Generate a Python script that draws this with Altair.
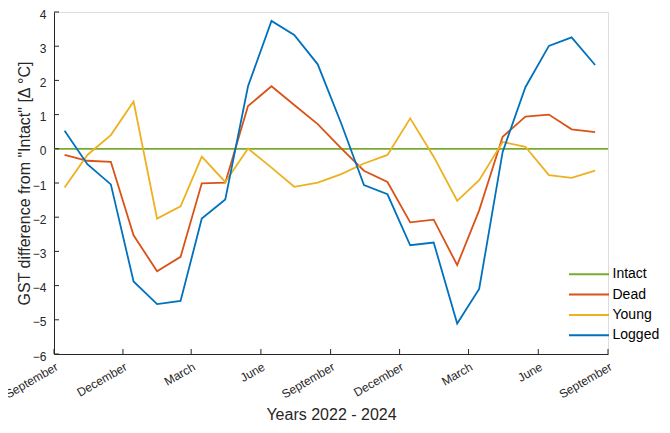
import altair as alt
import pandas as pd

# ---- data ----
months = ["2022-09", "2022-10", "2022-11", "2022-12", "2023-01", "2023-02",
          "2023-03", "2023-04", "2023-05", "2023-06", "2023-07", "2023-08",
          "2023-09", "2023-10", "2023-11", "2023-12", "2024-01", "2024-02",
          "2024-03", "2024-04", "2024-05", "2024-06", "2024-07", "2024-08"]
series_names = ["Intact", "Dead", "Young", "Logged"]
series_colors = ["#77AC30", "#D95319", "#EDB120", "#0072BD"]

intact_span = ["2022-09-01", "2024-09-01"]
intact = [0.0, 0.0]
dead = [-0.18, -0.35, -0.38, -2.53, -3.58, -3.16, -1.01, -0.99, 1.25, 1.83, 1.28, 0.72,
        0.01, -0.64, -0.97, -2.15, -2.07, -3.40, -1.80, 0.35, 0.94, 1.00, 0.57, 0.49]
young = [-1.13, -0.18, 0.40, 1.38, -2.04, -1.68, -0.23, -0.97, 0.01, -0.55, -1.11, -0.99,
         -0.74, -0.43, -0.18, 0.89, -0.23, -1.52, -0.92, 0.20, 0.06, -0.77, -0.85, -0.64]
logged = [0.53, -0.45, -1.04, -3.88, -4.54, -4.45, -2.04, -1.48, 1.83, 3.74, 3.33, 2.47,
          0.74, -1.06, -1.33, -2.82, -2.74, -5.11, -4.10, -0.09, 1.80, 3.01, 3.26, 2.45]

tick_dates = ["2022-09-01", "2022-12-01", "2023-03-01", "2023-06-01", "2023-09-01",
              "2023-12-01", "2024-03-01", "2024-06-01", "2024-09-01"]
tick_labels = ["September", "December", "March", "June", "September",
               "December", "March", "June", "September"]
y_ticks = [-6, -5, -4, -3, -2, -1, 0, 1, 2, 3, 4]

# ---- build tables ----
origin = pd.Timestamp(tick_dates[0])


def days(ds):
    return [int((pd.Timestamp(d) - origin).days) for d in ds]


mid_days = days([m + "-15" for m in months])
tick_days = days(tick_dates)

rows = []
for d, v in zip(days(intact_span), intact):
    rows.append({"day": d, "val": v, "series": "Intact"})
for name, vals in [("Dead", dead), ("Young", young), ("Logged", logged)]:
    for d, v in zip(mid_days, vals):
        rows.append({"day": d, "val": v, "series": name})
df = pd.DataFrame(rows)

xticks_df = pd.DataFrame({"day": tick_days})
yticks_df = pd.DataFrame({"val": y_ticks})

FONT = "Liberation Sans"
AX = "#262626"
W, H = 554, 342

label_expr = "[" + ",".join("'%s'" % t for t in tick_labels) + "][indexof([" + \
    ",".join(str(t) for t in tick_days) + "], datum.value)]"

x_axis = alt.Axis(values=tick_days, labelExpr=label_expr, labelAngle=-30,
                  labelAlign="right", labelBaseline="top", labelPadding=7,
                  labelOverlap=False, labelFlush=False,
                  ticks=False, grid=False, domainColor=AX, domainWidth=1,
                  labelColor=AX, labelFont=FONT, labelFontSize=12,
                  title="Years 2022 - 2024", titleFont=FONT, titleFontSize=16,
                  titleFontWeight="normal", titleColor=AX,
                  titleY=65, titleBaseline="alphabetic")
y_axis = alt.Axis(values=y_ticks, labelPadding=8, labelOffset=2, ticks=False,
                  grid=False, domainColor=AX, domainWidth=1, labelColor=AX,
                  labelFont=FONT, labelFontSize=12, labelOverlap=False,
                  labelFlush=False,
                  title='GST difference from "Intact" [Δ °C]', titleFont=FONT,
                  titleFontSize=16, titleFontWeight="normal", titleColor=AX,
                  titleX=-25, titleY=H / 2, titleAngle=-90, titleAlign="center",
                  titleBaseline="alphabetic")

x_scale = alt.Scale(domain=[tick_days[0], tick_days[-1]], nice=False, zero=False)
y_scale = alt.Scale(domain=[-6, 4], nice=False, zero=False)

lines = alt.Chart(df).mark_line(strokeWidth=1.8).encode(
    x=alt.X("day:Q", scale=x_scale, axis=x_axis),
    y=alt.Y("val:Q", scale=y_scale, axis=y_axis),
    color=alt.Color("series:N", sort=series_names,
                    scale=alt.Scale(domain=series_names, range=series_colors),
                    legend=alt.Legend(orient="none", legendX=524, legendY=251.3,
                                      title=None, symbolType="M-2,0H2",
                                      symbolSize=400, symbolStrokeWidth=2,
                                      labelFont=FONT, labelFontSize=14,
                                      labelColor="#000000", labelOffset=12.5,
                                      rowPadding=2.3, padding=0)),
    order=alt.Order("day:Q"),
)

xticks = alt.Chart(xticks_df).mark_rule(color=AX, strokeWidth=1).encode(
    x=alt.X("day:Q", scale=x_scale, axis=x_axis),
    y=alt.value(H), y2=alt.value(H - 5),
)
yticks = alt.Chart(yticks_df).mark_rule(color=AX, strokeWidth=1).encode(
    y=alt.Y("val:Q", scale=y_scale, axis=y_axis),
    x=alt.value(0), x2=alt.value(5),
)

chart = alt.layer(lines, xticks, yticks).properties(
    width=W, height=H,
    autosize=alt.AutoSizeParams(type="none"),
    padding={"left": 46, "top": 4, "right": 54, "bottom": 71},
).configure_view(stroke=None).configure(background="white")

chart.save("out.html", embed_options={"renderer": "svg", "actions": False})
